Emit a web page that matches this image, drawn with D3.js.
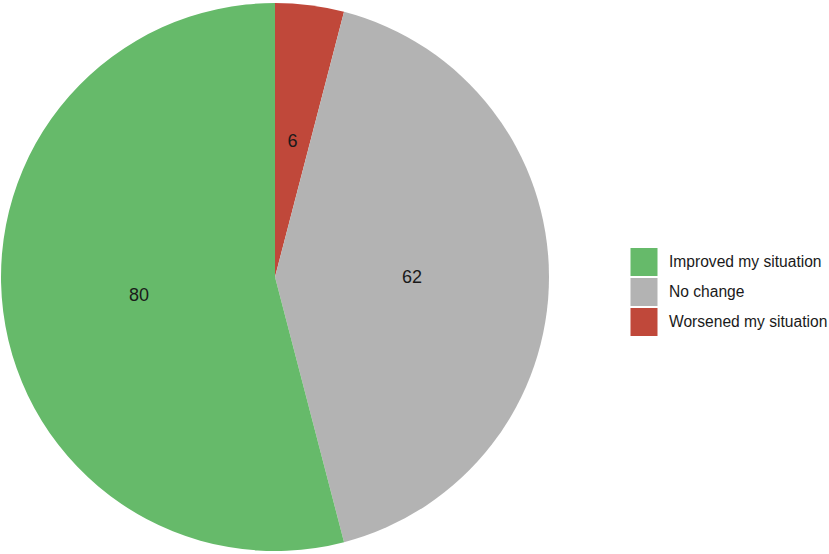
<!DOCTYPE html>
<html><head><meta charset="utf-8">
<script src="https://cdn.jsdelivr.net/npm/d3@7"></script>
<style>body{margin:0;background:#fff}svg{display:block}</style>
</head><body>
<svg id="c" width="829" height="554"></svg>
<script>
const categories = ["Worsened my situation", "No change", "Improved my situation"];
const values = [6, 62, 80];
const colors = ["#C0483A", "#B3B3B3", "#66BA6A"];
const legendOrder = ["Improved my situation", "No change", "Worsened my situation"];

const svg = d3.select("#c");
const cx = 275, cy = 277, r = 274;
const color = d3.scaleOrdinal().domain(categories).range(colors);
const data = categories.map((c, i) => ({cat: c, value: values[i]}));
const pie = d3.pie().value(d => d.value).sort(null);
const arcs = pie(data);
const arc = d3.arc().innerRadius(0).outerRadius(r);
const labelArc = d3.arc().innerRadius(r/2).outerRadius(r/2);
const g = svg.append("g").attr("transform", `translate(${cx},${cy})`);
g.selectAll("path").data(arcs).enter().append("path")
  .attr("d", arc).attr("fill", d => color(d.data.cat));
g.selectAll("text").data(arcs).enter().append("text")
  .attr("transform", d => `translate(${labelArc.centroid(d)})`)
  .attr("text-anchor", "middle").attr("dy", "0.35em")
  .style("font-family", "Liberation Sans, Arial, sans-serif").style("font-size", "18px")
  .attr("fill", "#1a1a1a")
  .text(d => d.data.value);

const lg = svg.append("g").attr("transform", "translate(630,247)");
const ly = d3.scaleBand().domain(legendOrder).range([0, 90]).padding(0);
legendOrder.forEach(c => {
  lg.append("rect").attr("x", 0).attr("y", ly(c) + 0.5).attr("width", 28).attr("height", 29)
    .attr("fill", color(c)).attr("stroke", "#fff").attr("stroke-width", 1);
  lg.append("text").attr("x", 39).attr("y", ly(c) + ly.bandwidth()/2).attr("dy", "0.35em")
    .style("font-family", "Liberation Sans, Arial, sans-serif").style("font-size", "15.6px")
    .attr("fill", "#1a1a1a").text(c);
});
</script>
</body></html>
